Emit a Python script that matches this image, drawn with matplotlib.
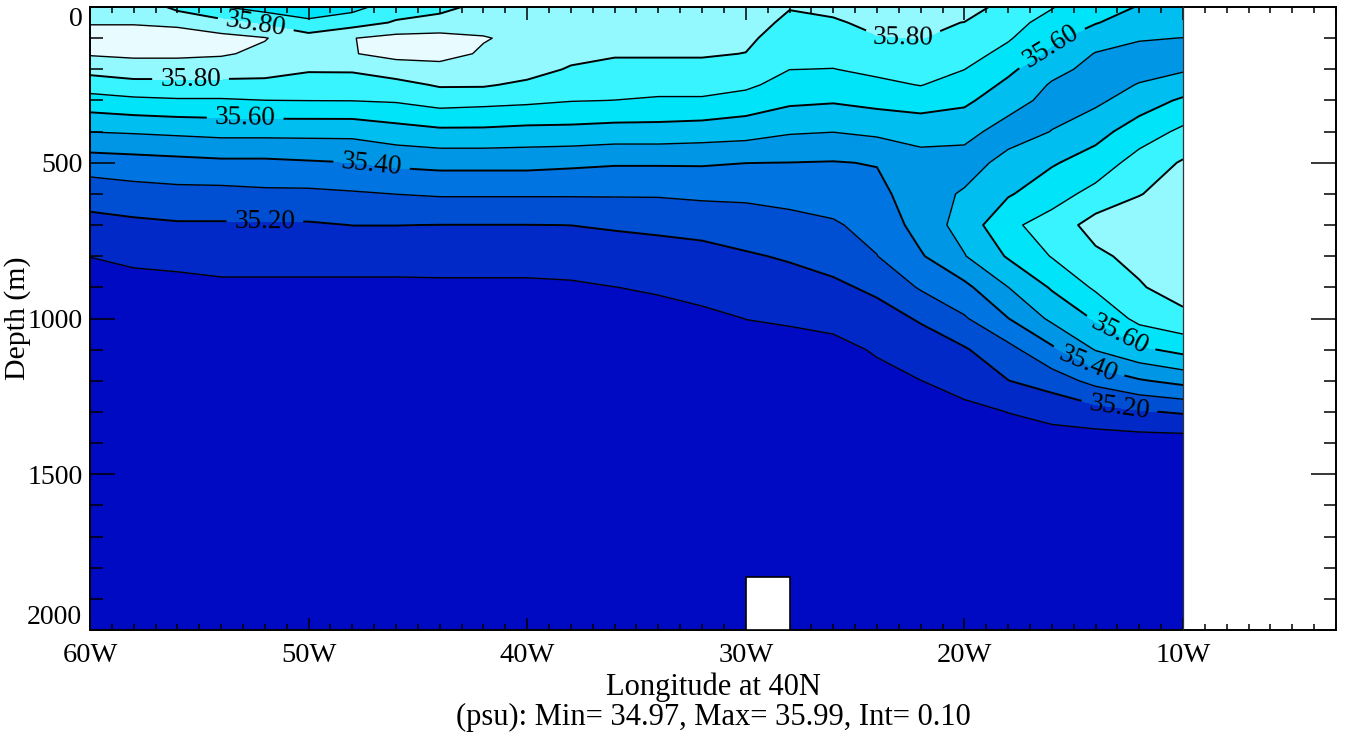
import numpy as np
import matplotlib
matplotlib.use("Agg")
import matplotlib.pyplot as plt
from matplotlib.ticker import MultipleLocator, FixedLocator

# ---------------- data ----------------
lons = [-60, -58, -56, -54, -52, -50, -48, -46, -44, -42, -40, -38, -36,
        -34, -32, -30, -28, -26, -24, -22, -20, -18, -16, -14, -12, -10]
depths = [0, 50, 100, 150, 200, 250, 300, 400, 500, 600, 700, 800, 900,
          1000, 1100, 1200, 1300, 1400, 1500, 2000]

sal_0 = [35.86, 35.86, 35.78, 35.705, 35.66, 35.64, 35.67, 35.75, 35.77, 35.83, 35.85, 35.85, 35.85,
         35.85, 35.85, 35.86, 35.805, 35.82, 35.84, 35.84, 35.85, 35.76, 35.705, 35.64, 35.595, 35.56]
sal_50 = [35.895, 35.89, 35.86, 35.83, 35.78, 35.72, 35.755, 35.81, 35.84, 35.87, 35.87, 35.85, 35.84,
          35.84, 35.84, 35.84, 35.78, 35.79, 35.82, 35.82, 35.798, 35.73, 35.67, 35.605, 35.555, 35.53]
sal_100 = [35.93, 35.96, 35.99, 35.93, 35.905, 35.84, 35.897, 35.93, 35.93, 35.905, 35.88, 35.84, 35.83,
           35.83, 35.83, 35.82, 35.75, 35.76, 35.795, 35.802, 35.77, 35.71, 35.62, 35.55, 35.505, 35.499]
sal_150 = [35.91, 35.92, 35.92, 35.91, 35.88, 35.88, 35.895, 35.93, 35.93, 35.89, 35.87, 35.83, 35.81,
           35.81, 35.81, 35.798, 35.73, 35.73, 35.76, 35.77, 35.74, 35.67, 35.58, 35.495, 35.48, 35.47]
sal_200 = [35.83, 35.85, 35.85, 35.85, 35.84, 35.81, 35.81, 35.85, 35.87, 35.86, 35.84, 35.79, 35.77,
           35.77, 35.77, 35.76, 35.701, 35.698, 35.72, 35.74, 35.701, 35.62, 35.53, 35.47, 35.47, 35.49]
sal_250 = [35.75, 35.77, 35.77, 35.77, 35.77, 35.755, 35.76, 35.77, 35.81, 35.81, 35.78, 35.75, 35.74,
           35.73, 35.73, 35.72, 35.66, 35.65, 35.68, 35.703, 35.66, 35.58, 35.49, 35.46, 35.505, 35.545]
sal_300 = [35.66, 35.68, 35.69, 35.69, 35.699, 35.701, 35.702, 35.71, 35.74, 35.73, 35.72, 35.704, 35.699,
           35.69, 35.69, 35.66, 35.62, 35.61, 35.63, 35.65, 35.62, 35.54, 35.47, 35.48, 35.55, 35.615]
sal_400 = [35.502, 35.51, 35.52, 35.53, 35.53, 35.53, 35.53, 35.56, 35.58, 35.58, 35.57, 35.57, 35.56,
           35.56, 35.55, 35.54, 35.51, 35.502, 35.52, 35.53, 35.53, 35.46, 35.502, 35.565, 35.65, 35.72]
sal_500 = [35.35, 35.36, 35.37, 35.38, 35.38, 35.39, 35.399, 35.42, 35.43, 35.43, 35.43, 35.42, 35.41,
           35.41, 35.41, 35.401, 35.399, 35.395, 35.405, 35.47, 35.46, 35.53, 35.59, 35.645, 35.74, 35.81]
sal_600 = [35.24, 35.26, 35.27, 35.27, 35.28, 35.28, 35.29, 35.301, 35.31, 35.31, 35.31, 35.31, 35.31,
           35.31, 35.32, 35.32, 35.33, 35.34, 35.37, 35.46, 35.51, 35.59, 35.66, 35.73, 35.795, 35.85]
sal_700 = [35.17, 35.18, 35.19, 35.19, 35.19, 35.19, 35.201, 35.201, 35.199, 35.199, 35.199, 35.2005, 35.21,
           35.22, 35.23, 35.25, 35.27, 35.29, 35.33, 35.44, 35.54, 35.68, 35.74, 35.84, 35.87, 35.88]
sal_800 = [35.101, 35.115, 35.125, 35.14, 35.14, 35.14, 35.14, 35.14, 35.145, 35.145, 35.145, 35.15, 35.155,
           35.16, 35.17, 35.19, 35.21, 35.24, 35.298, 35.39, 35.495, 35.61, 35.705, 35.78, 35.83, 35.87]
sal_900 = [35.07, 35.075, 35.075, 35.08, 35.08, 35.08, 35.08, 35.08, 35.08, 35.08, 35.08, 35.085, 35.099,
           35.11, 35.13, 35.14, 35.16, 35.18, 35.22, 35.31, 35.375, 35.499, 35.61, 35.715, 35.79, 35.85]
sal_1000 = [35.05, 35.06, 35.06, 35.06, 35.06, 35.06, 35.06, 35.06, 35.06, 35.06, 35.06, 35.065, 35.07,
            35.07, 35.08, 35.101, 35.11, 35.13, 35.16, 35.21, 35.29, 35.398, 35.52, 35.61, 35.73, 35.77]
sal_1100 = [35.04, 35.05, 35.05, 35.05, 35.05, 35.05, 35.05, 35.05, 35.05, 35.05, 35.05, 35.055, 35.06,
            35.06, 35.06, 35.07, 35.07, 35.07, 35.11, 35.15, 35.19, 35.27, 35.38, 35.505, 35.58, 35.63]
sal_1200 = [35.03, 35.04, 35.04, 35.04, 35.04, 35.04, 35.04, 35.04, 35.04, 35.04, 35.04, 35.045, 35.05,
            35.05, 35.05, 35.06, 35.06, 35.06, 35.07, 35.099, 35.13, 35.198, 35.25, 35.33, 35.39, 35.43]
sal_1300 = [35.02, 35.03, 35.03, 35.03, 35.03, 35.03, 35.03, 35.03, 35.03, 35.03, 35.03, 35.035, 35.04,
            35.04, 35.04, 35.05, 35.05, 35.05, 35.06, 35.07, 35.08, 35.101, 35.12, 35.16, 35.19, 35.21]
sal_1400 = [35.01, 35.02, 35.02, 35.02, 35.02, 35.02, 35.02, 35.02, 35.02, 35.02, 35.02, 35.025, 35.03,
            35.03, 35.03, 35.04, 35.04, 35.04, 35.05, 35.05, 35.06, 35.07, 35.07, 35.05, 35.05, 35.05]
sal_1500 = [35.00, 35.01, 35.01, 35.01, 35.01, 35.01, 35.01, 35.01, 35.01, 35.01, 35.01, 35.015, 35.02,
            35.02, 35.02, 35.03, 35.03, 35.03, 35.04, 35.04, 35.04, 35.05, 35.05, 35.04, 35.04, 35.04]
sal_2000 = [34.97, 34.97, 34.98, 34.98, 34.98, 34.98, 34.98, 34.98, 34.98, 34.98, 34.98, 34.98, 34.98,
            34.98, 34.98, 34.99, 34.99, 34.99, 34.99, 34.99, 34.99, 34.99, 34.99, 34.99, 34.99, 34.99]

levels = [35.1, 35.2, 35.3, 35.4, 35.5, 35.6, 35.7, 35.8, 35.9]
label_levels = [35.2, 35.4, 35.6, 35.8]
plain_levels = [35.1, 35.3, 35.5, 35.7, 35.9]

xtick_values = [-60, -50, -40, -30, -20, -10]
xtick_labels = ["60W", "50W", "40W", "30W", "20W", "10W"]
ytick_values = [0, 500, 1000, 1500, 2000]

# seafloor step (no data below)
topo_lons = [-30, -28]
topo_depths = [1830, 1830]

sal_min, sal_max, sal_int = 34.97, 35.99, 0.10

# ---------------- style ----------------
plt.rcParams['font.family'] = ['Liberation Serif', 'DejaVu Serif']

fill_colors = ['#000AC3', '#0029C8', '#004ED2', '#0074E0', '#0096E6',
               '#00BEF0', '#00E4FA', '#38F4FF', '#94F9FF', '#E8FCFF']
fill_levels = [34.9] + levels + [36.1]

label_positions = [(-52.4, 48), (-55.4, 225), (-52.9, 347), (-47.1, 498), (-52.0, 677),
                   (-22.8, 106), (-16.1, 122), (-13.0, 1069), (-14.3, 1140), (-12.9, 1278)]

W, H = 1348, 737
fig = plt.figure(figsize=(W / 100, H / 100), dpi=100)
ax = fig.add_axes([90 / W, 1 - 630 / H, (1336 - 90) / W, (630 - 7) / H])
ax.set_xlim(-60, -3)
ax.set_ylim(2000, 0)

S = np.array([sal_0, sal_50, sal_100, sal_150, sal_200, sal_250, sal_300, sal_400,
              sal_500, sal_600, sal_700, sal_800, sal_900, sal_1000, sal_1100,
              sal_1200, sal_1300, sal_1400, sal_1500, sal_2000])

ax.contourf(lons, depths, S, levels=fill_levels, colors=fill_colors)
ax.contour(lons, depths, S, levels=plain_levels, colors='k', linewidths=1.0)
cs = ax.contour(lons, depths, S, levels=label_levels, colors='k', linewidths=1.4)
ax.set_xlim(-60, -3)
ax.set_ylim(2000, 0)
ax.clabel(cs, fmt='%.2f', fontsize=19.5, inline=True,
          inline_spacing=8, manual=label_positions)

ax.fill_between(topo_lons, topo_depths, depths[-1], facecolor='white',
                edgecolor='black', linewidth=1.2, zorder=3)
ax.plot([lons[-1], lons[-1]], [depths[0], depths[-1]], color='#333333', lw=0.9, zorder=3)

ax.set_xlim(-60, -3)
ax.set_ylim(2000, 0)

ax.xaxis.set_major_locator(FixedLocator(xtick_values))
ax.set_xticklabels(xtick_labels)
ax.xaxis.set_minor_locator(MultipleLocator(1))
ax.yaxis.set_major_locator(FixedLocator(ytick_values))
ax.set_yticklabels([str(v) for v in ytick_values])
ax.yaxis.set_minor_locator(MultipleLocator(100))

ax.tick_params(which='both', direction='in', top=True, right=True, width=1.1, colors='k')
ax.tick_params(axis='y', which='major', length=18, pad=5.5, labelsize=20)
ax.tick_params(axis='y', which='minor', length=9)
ax.tick_params(axis='x', which='major', length=9, pad=9, labelsize=20.5)
ax.tick_params(axis='x', which='minor', length=4.5)
for sp in ax.spines.values():
    sp.set_linewidth(1.4)

ylabs = ax.get_yticklabels()
ylabs[0].set_verticalalignment('top')
ylabs[-1].set_verticalalignment('bottom')

ax.set_ylabel('Depth (m)', fontsize=21.5)
ax.yaxis.set_label_coords((31 - 90) / (1336 - 90), 0.5)

fig.text((90 + 1336) / 2 / W, 1 - 687 / H, 'Longitude at 40N', ha='center', va='center', fontsize=22)
fig.text((90 + 1336) / 2 / W, 1 - 717 / H,
         f'(psu): Min= {sal_min:.2f}, Max= {sal_max:.2f}, Int= {sal_int:.2f}',
         ha='center', va='center', fontsize=22)

fig.savefig('out.png', dpi=100)
